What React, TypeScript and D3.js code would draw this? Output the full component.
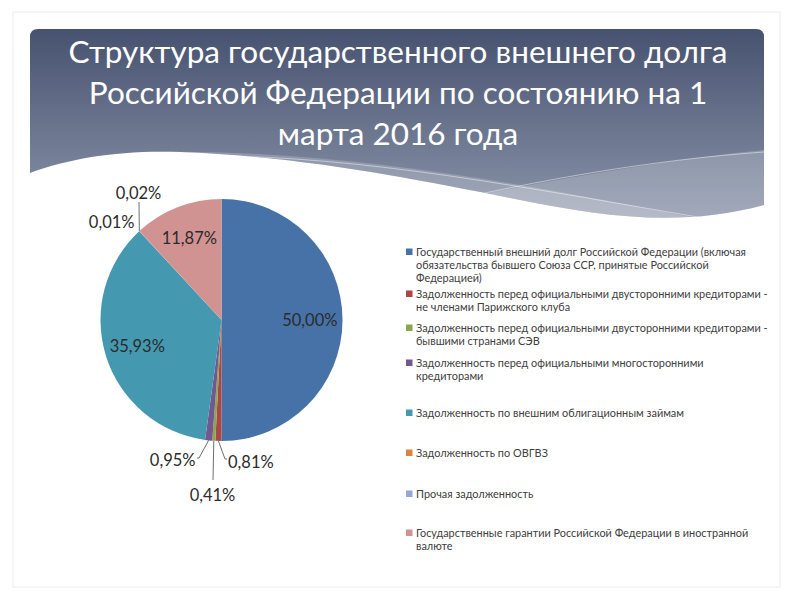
import * as d3 from 'd3'
import { useEffect, useRef } from 'react'

const W = 800
const H = 600

// data
const titleLines = [
  'Структура государственного внешнего долга',
  'Российской Федерации по состоянию на 1',
  'марта 2016 года',
]
const categories = [
  'Государственный внешний  долг Российской Федерации (включая обязательства бывшего Союза  ССР, принятые Российской Федерацией)',
  'Задолженность перед официальными двусторонними кредиторами - не членами Парижского клуба',
  'Задолженность перед официальными двусторонними кредиторами - бывшими странами СЭВ',
  'Задолженность перед официальными многосторонними кредиторами',
  'Задолженность по внешним облигационным займам',
  'Задолженность по ОВГВЗ',
  'Прочая задолженность',
  'Государственные гарантии Российской Федерации в иностранной валюте',
]
const legendLines = [
  ['Государственный внешний  долг Российской Федерации (включая', 'обязательства бывшего Союза  ССР, принятые Российской', 'Федерацией)'],
  ['Задолженность перед официальными двусторонними кредиторами -', 'не членами Парижского клуба'],
  ['Задолженность перед официальными двусторонними кредиторами -', 'бывшими странами СЭВ'],
  ['Задолженность перед официальными многосторонними', 'кредиторами'],
  ['Задолженность по внешним облигационным займам'],
  ['Задолженность по ОВГВЗ'],
  ['Прочая задолженность'],
  ['Государственные гарантии Российской Федерации в иностранной', 'валюте'],
]
const values = [50.0, 0.81, 0.41, 0.95, 35.93, 0.01, 0.02, 11.87]
const colors = ['#4672a8', '#aa4643', '#8aa64f', '#71588f', '#4499b0', '#db843d', '#93a9cf', '#d19392']

// layout
const cx = 221.5
const cy = 320
const R = 121
const legendX = 406
const legendTop = [252, 294, 328, 363, 413, 453, 494, 533]
const lineH = 13
const font = 'Lato, "Open Sans", sans-serif'
// label placement for the small slices: text offset from centre, anchor, leader elbow
const outside: Record<number, { dx: number; dy: number; anchor: string; elbow?: [number, number]; tail?: number }> = {
  1: { dx: 6.5, dy: 142, anchor: 'start', elbow: [225, 459], tail: 2 },
  2: { dx: -9, dy: 175, anchor: 'middle', elbow: [213, 480] },
  3: { dx: -26, dy: 140, anchor: 'end', elbow: [199, 458], tail: -2 },
  5: { dx: -87, dy: -98, anchor: 'end' },
  6: { dx: -83, dy: -127, anchor: 'middle', elbow: [139, 202] },
}

const fmt = (v: number) => v.toFixed(2).replace('.', ',') + '%'

export default function App() {
  const ref = useRef<SVGSVGElement>(null)

  useEffect(() => {
    const svg = d3.select(ref.current)
    svg.selectAll('*').remove()

    const defs = svg.append('defs')
    const grad = defs
      .append('linearGradient')
      .attr('id', 'hdr')
      .attr('x1', 0)
      .attr('y1', 0)
      .attr('x2', 0)
      .attr('y2', 1)
    grad.append('stop').attr('offset', '0%').attr('stop-color', '#475270')
    grad.append('stop').attr('offset', '100%').attr('stop-color', '#8a94a9')

    const headerPath =
      'M30,173 V37 Q30,29 38,29 H756 Q764,29 764,37 V205 C680,228 600,216 520,200 C420,180 300,156 180,152 C120,150 70,158 30,173 Z'
    defs.append('clipPath').attr('id', 'hclip').append('path').attr('d', headerPath)

    svg.append('rect').attr('width', W).attr('height', H).attr('fill', '#fff')
    svg
      .append('rect')
      .attr('x', 13)
      .attr('y', 12)
      .attr('width', 767)
      .attr('height', 575)
      .attr('fill', '#fff')
      .attr('stroke', '#ececec')

    // header
    svg.append('path').attr('d', headerPath).attr('fill', 'url(#hdr)')
    const bands = svg.append('g').attr('clip-path', 'url(#hclip)')
    bands
      .append('path')
      .attr('d', 'M150,152 C350,148 560,190 764,232 L764,300 L150,300 Z')
      .attr('fill', '#fff')
      .attr('opacity', 0.2)
    bands
      .append('path')
      .attr('d', 'M380,215 C500,190 640,162 764,150 L764,300 L380,300 Z')
      .attr('fill', '#fff')
      .attr('opacity', 0.2)
    bands
      .append('path')
      .attr('d', 'M230,156 C400,160 560,195 764,228')
      .attr('fill', 'none')
      .attr('stroke', '#fff')
      .attr('stroke-opacity', 0.45)
    bands
      .append('path')
      .attr('d', 'M430,205 C540,180 650,160 764,152')
      .attr('fill', 'none')
      .attr('stroke', '#fff')
      .attr('stroke-opacity', 0.45)

    svg
      .append('g')
      .selectAll('text')
      .data(titleLines)
      .join('text')
      .attr('x', 398)
      .attr('y', (_, i) => 63 + i * 41)
      .attr('text-anchor', 'middle')
      .attr('fill', '#fff')
      .attr('font-size', 31.5)
      .attr('font-family', font)
      .text((d) => d)

    // pie
    const pie = d3
      .pie<number>()
      .sort(null)
      .value((d) => d)
    const arcs = pie(values)
    const arc = d3.arc<d3.PieArcDatum<number>>().innerRadius(0).outerRadius(R)
    const labelArc = d3
      .arc<d3.PieArcDatum<number>>()
      .innerRadius(R * 0.73)
      .outerRadius(R * 0.73)
    const edgeArc = d3.arc<d3.PieArcDatum<number>>().innerRadius(R).outerRadius(R)

    const g = svg.append('g').attr('transform', `translate(${cx},${cy})`)
    g.selectAll('path')
      .data(arcs)
      .join('path')
      .attr('d', arc)
      .attr('fill', (_, i) => colors[i])

    arcs.forEach((a, i) => {
      const o = outside[i]
      let x: number, y: number, anchor: string
      if (!o) {
        ;[x, y] = labelArc.centroid(a)
        anchor = 'middle'
      } else {
        x = o.dx
        y = o.dy
        anchor = o.anchor
        if (o.elbow) {
          const [ex, ey] = edgeArc.centroid(a)
          const ox = o.elbow[0] - cx
          const oy = o.elbow[1] - cy
          const pts: [number, number][] = [
            [ex, ey],
            [ox, oy],
          ]
          if (o.tail) pts.push([ox + o.tail, oy])
          g.append('path')
            .attr('d', d3.line()(pts))
            .attr('fill', 'none')
            .attr('stroke', '#6e6e6e')
            .attr('stroke-width', 1)
        }
      }
      g.append('text')
        .attr('x', x)
        .attr('y', y)
        .attr('dy', '0.35em')
        .attr('text-anchor', anchor)
        .attr('font-size', 16.5)
        .attr('font-family', font)
        .attr('fill', '#2b2b2b')
        .text(fmt(a.data))
    })

    // legend
    const lg = svg.append('g')
    categories.forEach((c, i) => {
      const y0 = legendTop[i]
      lg.append('rect')
        .attr('x', legendX)
        .attr('y', y0 - 3.5)
        .attr('width', 6.5)
        .attr('height', 6.5)
        .attr('fill', colors[i])
        .append('title')
        .text(c)
      lg.append('text')
        .attr('font-size', 10.9)
        .attr('font-family', font)
        .attr('fill', '#404040')
        .selectAll('tspan')
        .data(legendLines[i])
        .join('tspan')
        .attr('x', legendX + 10)
        .attr('y', (_, k) => y0 + k * lineH)
        .attr('dy', '0.35em')
        .text((d) => d)
    })
  }, [])

  return (
    <svg
      ref={ref}
      width={W}
      height={H}
      style={{ position: 'absolute', left: 0, top: 0 }}
    />
  )
}
